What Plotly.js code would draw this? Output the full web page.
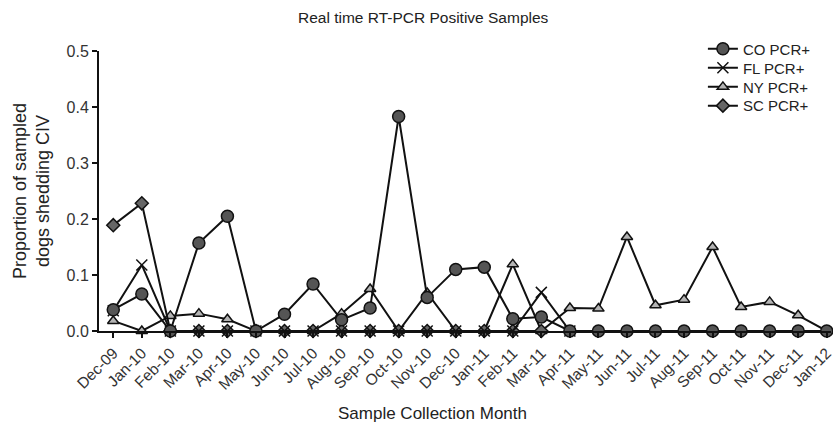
<!DOCTYPE html>
<html>
<head>
<meta charset="utf-8">
<script src="https://cdn.plot.ly/plotly-3.0.1.min.js"></script>
<style>html,body{margin:0;padding:0;background:#fff;}#chart{width:833px;height:429px;}</style>
</head>
<body>
<div id="chart"></div>
<script>
var months = ["Dec-09","Jan-10","Feb-10","Mar-10","Apr-10","May-10","Jun-10","Jul-10","Aug-10","Sep-10","Oct-10","Nov-10","Dec-10","Jan-11","Feb-11","Mar-11","Apr-11","May-11","Jun-11","Jul-11","Aug-11","Sep-11","Oct-11","Nov-11","Dec-11","Jan-12"];
var coValues = [0.038,0.066,0,0.157,0.205,0,0.030,0.084,0.020,0.041,0.383,0.060,0.110,0.114,0.022,0.025,0,0,0,0,0,0,0,0,0,0];
var flValues = [0.036,0.118,0,0,0,0,0,0,0,0,0,0,0,0,0,0.069,0];
var nyValues = [0.018,0,0.027,0.031,0.021,0,0,0,0.031,0.075,0,0.068,0,0,0.119,0,0.041,0.040,0.168,0.046,0.056,0.150,0.043,0.052,0.028,0];
var scValues = [0.189,0.228,0,0,0,0,0,0,0,0,0,0,0,0,0,0];
var seriesNames = ["CO PCR+","FL PCR+","NY PCR+","SC PCR+"];
var yTicks = [0,0.1,0.2,0.3,0.4,0.5];

var lineStyle = {color:"#111", width:2};
var traces = [
  {name:seriesNames[2], legend:"legend3", showlegend:true, x:months.slice(0,nyValues.length), y:nyValues, mode:"lines+markers", cliponaxis:false,
   line:lineStyle, marker:{symbol:"triangle-up", size:10, color:"#b4b4b4", line:{color:"#111", width:1.5}}},
  {name:seriesNames[3], legend:"legend4", showlegend:true, x:months.slice(0,scValues.length), y:scValues, mode:"lines+markers", cliponaxis:false,
   line:lineStyle, marker:{symbol:"diamond", size:10, color:"#666", line:{color:"#111", width:1.5}}},
  {name:seriesNames[1], legend:"legend2", showlegend:true, x:months.slice(0,flValues.length), y:flValues, mode:"lines+markers", cliponaxis:false,
   line:lineStyle, marker:{symbol:"x-thin", size:11, color:"#111", line:{color:"#111", width:1.5}}},
  {name:seriesNames[0], legend:"legend", showlegend:true, x:months.slice(0,coValues.length), y:coValues, mode:"lines+markers", cliponaxis:false,
   line:lineStyle, marker:{symbol:"circle", size:12, color:"#555", line:{color:"#111", width:1.5}}}
];

var font = "Liberation Sans, Arial, sans-serif";
function legendAt(yp) {
  return {x:0.825, xanchor:"left", y:yp, yanchor:"middle", font:{size:15, color:"#222"},
          bgcolor:"rgba(0,0,0,0)", itemwidth:30, borderwidth:0};
}
var layout = {
  width:833, height:429,
  margin:{l:99, r:2, t:51, b:98},
  showlegend:true,
  paper_bgcolor:"#fff", plot_bgcolor:"#fff",
  font:{family:font, color:"#222", size:13},
  title:{text:"Real time RT-PCR Positive Samples", font:{size:15.5, color:"#222"},
         xref:"container", x:0.508, xanchor:"center", yref:"container", y:0.958, yanchor:"middle"},
  xaxis:{type:"category", categoryorder:"array", categoryarray:months, range:[-0.5,25.15],
         tickmode:"array", tickvals:months, ticktext:months, tickangle:-45,
         ticks:"outside", ticklen:5, tickwidth:2, tickcolor:"#111",
         showline:true, linecolor:"#111", linewidth:2, showgrid:false, zeroline:false,
         tickfont:{size:15.5, color:"#333"}},
  yaxis:{range:[0,0.5], tickmode:"array", tickvals:yTicks, tickformat:".1f",
         ticks:"outside", ticklen:5, tickwidth:2, tickcolor:"#111",
         showline:true, linecolor:"#111", linewidth:2, showgrid:false, zeroline:false,
         tickfont:{size:16, color:"#333"},
         title:{text:"Proportion of sampled<br>dogs shedding CIV", font:{size:18, color:"#222"}, standoff:12}},
  legend:legendAt(1.007),
  legend2:legendAt(0.939),
  legend3:legendAt(0.871),
  legend4:legendAt(0.804),
  annotations:[{text:"Sample Collection Month", xref:"paper", yref:"paper", x:0.456, y:-0.293,
                xanchor:"center", yanchor:"middle", showarrow:false, font:{size:17, color:"#222"}}]
};
Plotly.newPlot("chart", traces, layout, {displayModeBar:false, staticPlot:true});
</script>
</body>
</html>
